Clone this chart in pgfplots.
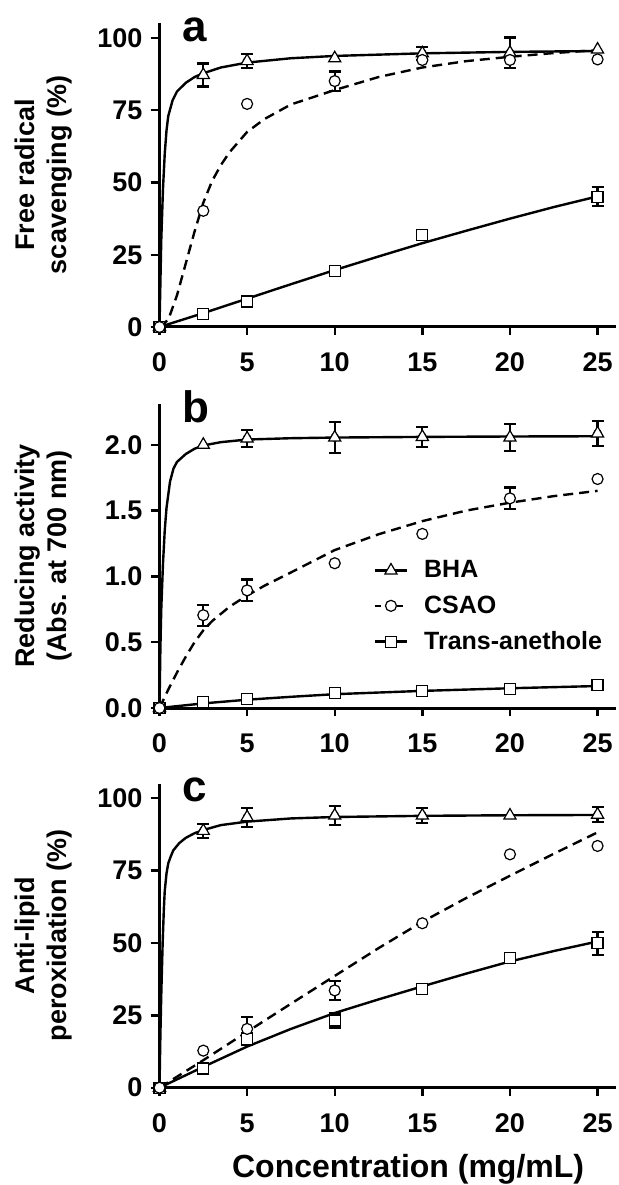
\documentclass[border=0pt]{standalone}
\usepackage{fontspec}
\setmainfont{Liberation Sans}
\usepackage{pgfplots}
\pgfplotsset{compat=1.18}

\begin{document}
\begin{tikzpicture}
\tikzset{letter/.style={anchor=base west, font=\fontsize{22}{22}\selectfont\bfseries}}
\pgfplotsset{
  panel/.style={
    scale only axis, width=228.5pt, height=152pt,
    xmin=0, xmax=26.08, ymin=0,
    axis x line=bottom, axis y line=left,
    axis line style={line width=1.5pt, -},
    tick style={line width=1.2pt, black},
    major tick length=4pt,
    tick align=outside,
    xtick={0,5,10,15,20,25},
    ticklabel style={font=\fontsize{13.5}{14}\selectfont\bfseries},
    xticklabel style={yshift=-5.5pt},
    yticklabel style={xshift=-1pt},
    /pgf/number format/assume math mode=true,
    every axis y label/.style={at={(axis description cs:-0.253,0.5)}, rotate=90,
      anchor=center, align=center, font=\fontsize{13.5}{16}\selectfont\bfseries},
    clip=false,
  },
  fit/.style={line width=1.2pt, black, no markers},
  dsh/.style={fit, dash pattern=on 5pt off 3pt},
  mk/.style={only marks, mark options={fill=white, draw=black, line width=0.6pt, solid}},
  bha/.style={mk, mark=triangle*, mark size=3.5pt},
  csao/.style={mk, mark=*, mark size=2.75pt},
  ta/.style={mk, mark=square*, mark size=2.75pt},
  err/.style={only marks, mark=none, error bars/y dir=both, error bars/y explicit,
    error bars/error bar style={line width=1.1pt, black, solid},
    error bars/error mark options={rotate=90, mark size=3pt, line width=1.1pt, black}},
}

% ---- panel a ----
\begin{axis}[panel, at={(0pt,380.35pt)}, anchor=origin, ymax=105.2,
  ytick={0,25,50,75,100},
  ylabel={Free radical\\scavenging (\%)}]
\addplot[fit] coordinates {(0,0)(0.05,15)(0.1,30)(0.2,48)(0.3,60)(0.4,68)(0.5,73)(0.75,78.5)(1,81.5)(1.5,84.5)(2,86.5)(2.5,87.8)(3.5,89.8)(5,91.5)(7.5,93)(10,93.8)(15,94.7)(20,95.2)(25,95.5)};
\addplot[dsh] coordinates {(0,0)(0.5,2.5)(1,11)(1.5,22)(2,33)(2.5,43)(3,50.5)(3.5,56)(4,60.5)(5,67.5)(6,72)(7.5,77)(10,82)(12.5,86.5)(15,89.8)(17.5,92)(20,93.5)(22.5,94.8)(25,95.8)};
\addplot[fit] coordinates {(0,0)(2.5,4.8)(5,9.8)(7.5,14.8)(10,19.7)(12.5,24.4)(15,29)(17.5,33.3)(20,37.5)(22.5,41.5)(25,45.2)};
% error bars
\addplot[err] coordinates {(2.5,87.2) +- (0,4) (5,92) +- (0,2.5) (15,94.7) +- (0,2.3) (20,94.9) +- (0,5.3)};
\addplot[err] coordinates {(25,45.1) +- (0,3.3)};
\addplot[err] coordinates {(10,85.1) +- (0,3.3)};
% points
\addplot[bha] coordinates {(0,0)(2.5,87.2)(5,92)(10,93)(15,94.7)(20,94.9)(25,96)};
\addplot[ta] coordinates {(0,0)(2.5,4.5)(5,8.8)(10,19.5)(15,31.8)(25,45.1)};
\addplot[csao] coordinates {(0,0)(2.5,40.2)(5,77.2)(10,85.1)(15,92.4)(20,92.4)(25,92.6)};
\node[letter] at (rel axis cs:0.035,0.94) {a};
\end{axis}

% ---- panel b ----
\begin{axis}[panel, at={(0pt,189.85pt)}, anchor=origin, ymax=2.31,
  ytick={0,0.5,1,1.5,2}, yticklabels={0.0,0.5,1.0,1.5,2.0},
  ylabel={Reducing activity\\(Abs. at 700 nm)},
  legend style={at={(rel axis cs:0.468,0.5)}, anchor=north west, draw=none, fill=none,
    font=\fontsize{12.5}{12.5}\selectfont\bfseries, row sep=3.5pt, column sep=6pt, inner sep=0pt},
  legend cell align=left,
  legend image code/.code={\draw[mark repeat=2, mark phase=2, #1] plot coordinates {(0pt,0pt) (8pt,0pt) (16pt,0pt)};}]
\addlegendimage{line width=1.2pt, mark=triangle*, mark size=3.5pt, mark options={fill=white, line width=0.6pt, solid}}
\addlegendentry{BHA}
\addlegendimage{line width=1.2pt, dash pattern=on 3pt off 2.5pt, mark=*, mark size=2.75pt, mark options={fill=white, line width=0.6pt, solid}}
\addlegendentry{CSAO}
\addlegendimage{line width=1.2pt, mark=square*, mark size=2.75pt, mark options={fill=white, line width=0.6pt, solid}}
\addlegendentry{Trans-anethole}
\addplot[fit, forget plot] coordinates {(0,0)(0.05,0.45)(0.1,0.75)(0.2,1.1)(0.3,1.35)(0.4,1.52)(0.6,1.72)(0.8,1.82)(1,1.87)(1.5,1.93)(2,1.97)(2.5,1.995)(3.5,2.02)(5,2.04)(7.5,2.05)(10,2.055)(15,2.06)(20,2.063)(25,2.065)};
\addplot[dsh, forget plot] coordinates {(0,0)(0.5,0.14)(1,0.27)(1.5,0.39)(2,0.5)(2.5,0.59)(3,0.66)(4,0.77)(5,0.855)(6,0.93)(7.5,1.03)(10,1.2)(12.5,1.32)(15,1.42)(17.5,1.5)(20,1.56)(22.5,1.61)(25,1.65)};
\addplot[fit, forget plot] coordinates {(0,0)(2.5,0.035)(5,0.063)(7.5,0.085)(10,0.105)(15,0.13)(20,0.15)(25,0.167)};
% error bars
\addplot[forget plot, err] coordinates {(5,2.048) +- (0,0.065) (10,2.055) +- (0,0.12) (15,2.06) +- (0,0.075) (20,2.055) +- (0,0.1) (25,2.086) +- (0,0.095)};
\addplot[forget plot, err] coordinates {(2.5,0.705) +- (0,0.08) (5,0.894) +- (0,0.083) (20,1.593) +- (0,0.083)};
% points
\addplot[forget plot, bha] coordinates {(0,0)(2.5,2.0)(5,2.048)(10,2.055)(15,2.06)(20,2.055)(25,2.086)};
\addplot[forget plot, ta] coordinates {(0,0)(2.5,0.048)(5,0.066)(10,0.111)(15,0.131)(20,0.144)(25,0.174)};
\addplot[forget plot, csao] coordinates {(0,0)(2.5,0.705)(5,0.894)(10,1.10)(15,1.323)(20,1.593)(25,1.74)};
\node[letter] at (rel axis cs:0.035,0.94) {b};
\end{axis}

% ---- panel c ----
\begin{axis}[panel, at={(0pt,0pt)}, anchor=origin, ymax=105,
  ytick={0,25,50,75,100},
  ylabel={Anti-lipid\\peroxidation (\%)},
  xlabel={Concentration (mg/mL)},
  xlabel style={at={(axis description cs:0.544,-0.294)}, anchor=base,
    font=\fontsize{16}{16}\selectfont\bfseries}]
\addplot[fit] coordinates {(0,0)(0.05,18)(0.1,32)(0.18,50)(0.25,62)(0.3,68)(0.4,74)(0.5,77.5)(0.65,80)(0.79,82)(1.13,84.5)(1.5,86.3)(2,87.9)(2.5,89)(3.5,90.7)(5,91.9)(7.5,93)(10,93.5)(15,93.9)(20,94.1)(25,94.2)};
\addplot[dsh] coordinates {(0,0)(2.5,9.5)(5,19.3)(7.5,29)(10,38.6)(12.5,48.2)(15,57.3)(17.5,65.5)(20,73.2)(22.5,80.8)(25,88.2)};
\addplot[fit] coordinates {(0,0)(2.5,7.2)(5,14.2)(7.5,20.3)(10,25.8)(12.5,30.5)(15,35)(17.5,39.4)(20,43.6)(22.5,47.2)(25,50.5)};
% error bars
\addplot[err] coordinates {(2.5,88.7) +- (0,2.5) (5,93.4) +- (0,3.3) (10,94) +- (0,3.3) (15,94) +- (0,2.5) (25,94.3) +- (0,2.6)};
\addplot[err] coordinates {(5,16.8) +- (0,2) (10,23.2) +- (0,2.6) (25,49.9) +- (0,4)};
\addplot[err] coordinates {(5,20.3) +- (0,4) (10,33.6) +- (0,3.3)};
% points
\addplot[bha] coordinates {(0,0)(2.5,88.7)(5,93.4)(10,94)(15,94)(20,94)(25,94.3)};
\addplot[ta] coordinates {(0,0)(2.5,6.6)(5,16.8)(10,23.2)(15,34.2)(20,44.7)(25,49.9)};
\addplot[csao] coordinates {(0,0)(2.5,12.8)(5,20.3)(10,33.6)(15,56.8)(20,80.6)(25,83.5)};
\node[letter] at (rel axis cs:0.035,0.94) {c};
\end{axis}

\pgfresetboundingbox
\useasboundingbox (-79.75pt,-48.65pt) rectangle (229.75pt,543.85pt);
\end{tikzpicture}
\end{document}
